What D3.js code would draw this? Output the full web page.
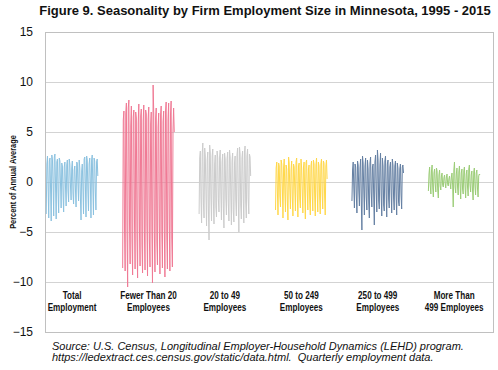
<!DOCTYPE html>
<html>
<head>
<meta charset="utf-8">
<script src="https://cdn.jsdelivr.net/npm/d3@7"></script>
<style>
  body { margin: 0; background: #fff; }
  svg { display: block; }
</style>
</head>
<body>
<div id="content"></div>
<script>
// quarterly seasonality, percent of annual average, 1995Q1 - 2015Q4
const categories = ["Total Employment", "Fewer Than 20 Employees", "20 to 49 Employees",
  "50 to 249 Employees", "250 to 499 Employees", "More Than 499 Employees"];
const labelLines = [["Total", "Employment"], ["Fewer Than 20", "Employees"], ["20 to 49", "Employees"],
  ["50 to 249", "Employees"], ["250 to 499", "Employees"], ["More Than", "499 Employees"]];

const total = [
  -3.2, 1.8, 2.6, -0.4, -3.6, 2.1, 2.4, -0.8, -3.9, 2.7, 2.2, -0.2, -3.4, 2.5, 2.8, -0.6,
  -3.7, 2.0, 2.3, -1.0, -3.1, 2.4, 2.1, -0.3, -2.6, 1.9, 1.6, -1.2, -3.0, 1.5, 2.0, -0.5,
  -2.4, 1.7, 2.2, -0.9, -2.0, 2.3, 1.8, -0.4, -1.8, 1.4, 2.1, -1.1, -2.2, 1.2, 1.6, -0.7,
  -2.5, 2.0, 1.9, -0.2, -1.9, 2.2, 1.4, -1.6, -3.8, 1.1, 1.8, -0.5, -3.2, 2.3, 2.5, -0.3,
  -3.5, 2.6, 2.2, -0.8, -2.9, 1.8, 2.4, -0.1, -3.6, 2.2, 2.7, -0.6, -3.3, 2.4, 2.1, -0.9,
  -2.8, 2.0, 2.3, 0.6
];
const fewer20 = [
  -8.6, 6.2, 7.1, -4.8, -8.9, 6.8, 7.9, -5.3, -10.5, 7.4, 8.2, -4.1, -8.2, 5.6, 7.6, -5.9,
  -9.3, 6.5, 7.2, -3.8, -8.7, 7.0, 6.4, -5.5, -9.6, 5.9, 7.8, -4.6, -8.4, 6.6, 7.3, -6.2,
  -9.1, 6.1, 7.7, -5.0, -8.8, 7.2, 6.8, -4.3, -9.4, 6.3, 7.5, -5.7, -8.5, 5.8, 7.0, -4.9,
  -10.1, 9.7, 6.9, -5.2, -9.0, 6.4, 7.4, -6.0, -8.3, 5.5, 6.9, -4.4, -9.2, 6.7, 7.6, -5.1,
  -8.6, 6.0, 7.1, -4.7, -9.5, 7.1, 8.0, -5.4, -8.7, 6.2, 7.9, -4.2, -8.9, 6.8, 8.1, -5.6,
  -8.5, 5.2, 7.4, 5.0
];
const size20to49 = [
  -3.2, 2.4, 3.1, -1.5, -4.1, 2.8, 3.9, -2.2, -3.6, 3.4, 2.6, -1.1, -4.4, 2.2, 3.0, -2.8,
  -5.8, 3.7, 2.9, -1.4, -3.9, 2.6, 3.3, -2.0, -4.2, 1.8, 2.7, -2.5, -3.5, 3.1, 2.4, -1.7,
  -3.0, 2.5, 3.2, -1.2, -3.8, 2.0, 2.8, -2.4, -4.6, 2.9, 2.3, -1.6, -3.3, 2.3, 3.0, -2.1,
  -3.9, 3.2, 2.5, -1.3, -4.3, 2.1, 2.9, -2.9, -4.0, 1.9, 2.6, -1.8, -3.4, 2.7, 3.4, -1.5,
  -5.0, 3.5, 2.8, -2.3, -3.7, 2.4, 3.1, -1.4, -4.1, 3.0, 3.6, -2.0, -3.6, 2.6, 3.3, -1.6,
  -3.2, 2.8, 2.5, 0.6
];
const size50to249 = [
  -2.8, 1.4, 2.0, -0.9, -3.3, 1.9, 1.6, -1.4, -2.5, 2.2, 1.8, -0.6, -3.6, 1.5, 2.3, -1.1,
  -3.0, 1.7, 1.3, -1.8, -3.8, 2.5, 1.9, -0.8, -2.7, 1.2, 2.1, -1.5, -3.4, 1.8, 1.5, -0.7,
  -2.9, 2.0, 2.4, -1.2, -3.5, 1.6, 1.9, -1.7, -2.6, 2.3, 1.4, -0.9, -3.1, 1.5, 2.0, -1.3,
  -3.7, 1.9, 2.2, -0.6, -2.8, 1.3, 1.7, -1.9, -3.3, 1.6, 2.1, -1.0, -2.9, 2.2, 1.8, -1.4,
  -3.4, 1.7, 2.4, -0.8, -3.0, 2.0, 1.6, -1.6, -3.2, 1.8, 2.3, -1.1, -2.7, 2.1, 1.9, -1.5,
  -3.3, 1.6, 2.2, 0.3
];
const size250to499 = [
  -1.9, 1.2, 2.0, -0.6, -2.6, 1.8, 1.5, -1.3, -3.1, 2.1, 1.7, -0.9, -2.4, 1.4, 2.3, -1.8,
  -4.8, 2.6, 1.9, -0.7, -3.3, 1.6, 2.4, -1.5, -2.8, 2.2, 1.3, -2.1, -3.6, 1.9, 2.5, -1.0,
  -2.5, 1.5, 1.8, -1.4, -4.3, 2.0, 2.7, -0.8, -3.0, 3.2, 2.2, -1.9, -2.7, 1.7, 2.9, -1.2,
  -3.4, 2.4, 1.6, -2.3, -2.9, 2.1, 2.6, -1.1, -3.5, 1.8, 2.2, -1.7, -2.6, 1.5, 2.0, -0.9,
  -3.1, 2.3, 1.7, -1.6, -2.8, 1.6, 2.1, -1.3, -3.3, 1.9, 1.4, -2.0, -2.4, 1.3, 1.8, -1.2,
  -2.7, 1.5, 1.7, 0.9
];
const over499 = [
  -0.9, 0.8, 1.5, -0.3, -1.2, 1.1, 1.7, -0.6, -1.5, 0.9, 1.3, -0.2, -1.0, 1.4, 1.1, -0.8,
  -1.6, 0.7, 1.2, -0.4, -0.8, 0.6, 0.9, -0.3, -0.5, 0.4, 0.7, -0.1, -0.6, 0.5, 0.8, -0.2,
  -0.4, 0.3, 0.6, -0.1, -0.7, 0.5, 0.9, -0.3, -2.5, 1.2, 2.0, -0.5, -1.1, 0.8, 1.4, -0.6,
  -1.3, 1.0, 1.6, -0.2, -1.7, 0.9, 1.3, -0.7, -1.2, 1.1, 1.5, -0.4, -1.6, 0.8, 1.2, -0.5,
  -1.4, 1.3, 1.7, -0.3, -1.0, 0.7, 1.1, -0.8, -1.8, 1.0, 1.4, -0.4, -1.3, 0.9, 1.2, -0.6,
  -1.5, 0.6, 0.8, 0.7
];

const series = [total, fewer20, size20to49, size50to249, size250to499, over499];
const colors = ["#8cc2e0", "#f07a95", "#cccccc", "#ffd84a", "#6580a3", "#9ccd78"];
const yTicks = [-15, -10, -5, 0, 5, 10, 15];

const width = 498, height = 370;
const plotLeft = 45, plotRight = 493, plotTop = 32, plotBottom = 332;
const quarters = 84, gap = 39, step = quarters + gap;

const svg = d3.select("#content").append("svg")
  .attr("width", width)
  .attr("height", height);

const x = d3.scaleLinear()
  .domain([-2, 5 * step + quarters + 20])
  .range([plotLeft, plotRight]);

const y = d3.scaleLinear()
  .domain([-15, 15])
  .range([plotBottom, plotTop]);

// gridlines
svg.append("g")
  .attr("transform", `translate(${plotLeft},0)`)
  .call(d3.axisLeft(y).tickValues(yTicks).tickSize(-(plotRight - plotLeft)).tickFormat(""))
  .call(g => g.select(".domain").remove())
  .call(g => g.selectAll("line").attr("stroke", "#d3d3d3").attr("stroke-width", 1));

// tick labels
svg.append("g")
  .attr("transform", `translate(${plotLeft},0)`)
  .call(d3.axisLeft(y).tickValues(yTicks).tickSize(0).tickPadding(12))
  .call(g => g.select(".domain").remove())
  .call(g => g.selectAll("text")
    .attr("font-family", "Liberation Sans, Arial, sans-serif")
    .attr("font-size", 12)
    .attr("fill", "#111"));

// plot border
svg.append("rect")
  .attr("x", plotLeft + 0.5)
  .attr("y", plotTop + 0.5)
  .attr("width", plotRight - plotLeft)
  .attr("height", plotBottom - plotTop)
  .attr("fill", "none")
  .attr("stroke", "#c0c0c0");

// lines
const line = d3.line()
  .x(d => x(d.i))
  .y(d => y(d.v));

series.forEach((vals, g) => {
  const pts = vals.map((v, k) => ({i: g * step + k, v: v}));
  svg.append("path")
    .datum(pts)
    .attr("fill", "none")
    .attr("stroke", colors[g])
    .attr("stroke-width", 1)
    .attr("d", line);
});

// category labels (narrow bold look: squeeze horizontally)
const font = "'Liberation Sans', Arial, sans-serif";
labelLines.forEach((lines, g) => {
  const cx = x(g * step + (quarters - 1) / 2);
  const t = svg.append("g")
    .attr("transform", `translate(${cx},299) scale(0.74,1)`)
    .append("text")
    .attr("text-anchor", "middle")
    .attr("font-family", font)
    .attr("font-weight", "bold")
    .attr("font-size", 11)
    .attr("fill", "#111");
  lines.forEach((s, k) => {
    t.append("tspan")
      .attr("x", 0)
      .attr("y", k * 12)
      .text(s);
  });
});

// y axis title
svg.append("text")
  .attr("transform", `translate(13,${(plotTop + plotBottom) / 2}) rotate(-90) scale(0.78,1)`)
  .attr("text-anchor", "middle")
  .attr("dy", "0.35em")
  .attr("font-family", font)
  .attr("font-weight", "bold")
  .attr("font-size", 9.5)
  .attr("fill", "#111")
  .text("Percent of Annual Average");

// title
svg.append("text")
  .attr("x", 265)
  .attr("y", 15)
  .attr("text-anchor", "middle")
  .attr("font-family", font)
  .attr("font-weight", "bold")
  .attr("font-size", 13)
  .attr("fill", "#111")
  .text("Figure 9. Seasonality by Firm Employment Size in Minnesota, 1995 - 2015");

// source
const src = svg.append("text")
  .attr("font-family", font)
  .attr("font-style", "italic")
  .attr("font-size", 11)
  .attr("fill", "#111")
  .style("white-space", "pre");
src.append("tspan").attr("x", 52).attr("y", 350)
  .text("Source: U.S. Census, Longitudinal Employer-Household Dynamics (LEHD) program.");
src.append("tspan").attr("x", 52).attr("y", 361)
  .text("https://ledextract.ces.census.gov/static/data.html.  Quarterly employment data.");
</script>
</body>
</html>
